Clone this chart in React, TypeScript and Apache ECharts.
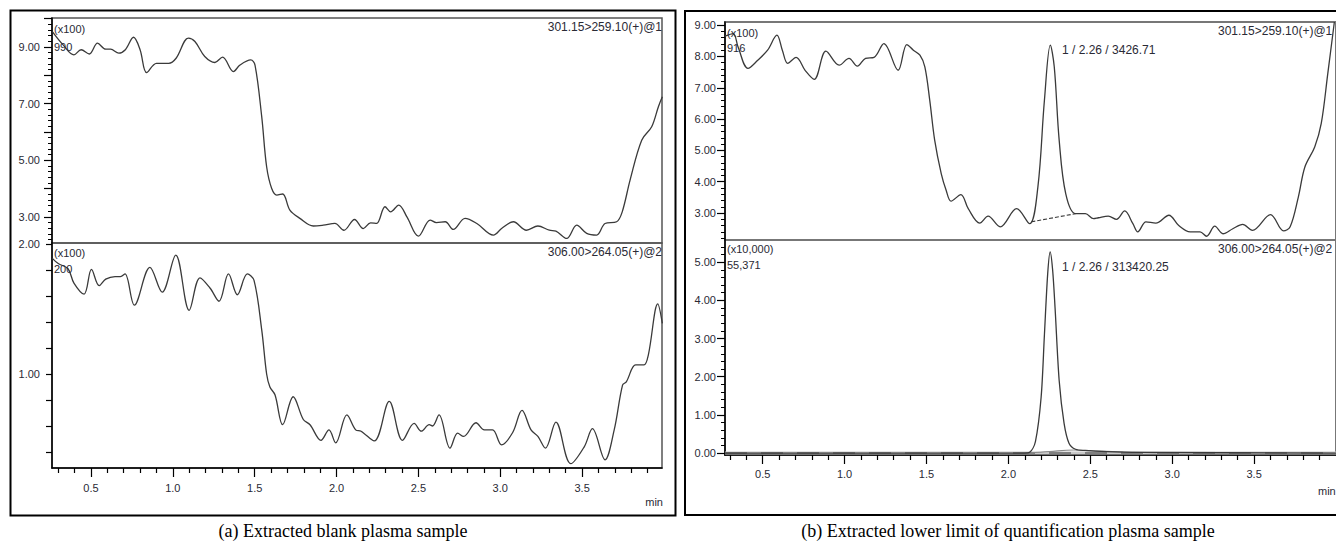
import React, { useEffect, useRef } from "react";
import * as echarts from "echarts";

// ---- Data (time in min, intensity in displayed axis units) ----
const blankAnalyte: [number, number][] = [
  [0.264, 9.54], [0.33, 9.07], [0.396, 8.72], [0.44, 8.9], [0.49, 8.75], [0.54, 9.13], [0.59, 8.92], [0.62, 8.92],
  [0.67, 8.78], [0.71, 8.9], [0.76, 9.34], [0.8, 8.9], [0.84, 8.09], [0.9, 8.42], [0.975, 8.42], [1.02, 8.6],
  [1.095, 9.31], [1.135, 9.19], [1.195, 8.66], [1.257, 8.45], [1.304, 8.64], [1.37, 8.13], [1.41, 8.36], [1.476, 8.54],
  [1.502, 8.36], [1.543, 6.54], [1.573, 4.77], [1.604, 4.0], [1.635, 3.77], [1.671, 3.81], [1.715, 3.24], [1.776, 2.95],
  [1.858, 2.68], [1.919, 2.71], [1.99, 2.77], [2.045, 2.53], [2.11, 2.91], [2.163, 2.59], [2.208, 2.79], [2.245, 2.77],
  [2.296, 3.36], [2.33, 3.18], [2.38, 3.42], [2.43, 3.0], [2.5, 2.32], [2.572, 2.89], [2.61, 2.8], [2.664, 2.83],
  [2.713, 2.56], [2.785, 2.95], [2.857, 2.77], [2.958, 2.36], [3.01, 2.6], [3.08, 2.83], [3.16, 2.53], [3.23, 2.68],
  [3.3, 2.53], [3.34, 2.5], [3.406, 2.24], [3.467, 2.71], [3.528, 2.42], [3.589, 2.36], [3.64, 2.77], [3.711, 2.83],
  [3.745, 3.18], [3.793, 4.3], [3.864, 5.71], [3.925, 6.18], [3.966, 6.89], [3.99, 7.24],
];

const blankIS: [number, number][] = [
  [0.264, 1.89], [0.3, 1.85], [0.36, 1.81], [0.396, 1.7], [0.458, 1.615], [0.503, 1.805], [0.55, 1.68], [0.59, 1.73],
  [0.647, 1.75], [0.68, 1.75], [0.708, 1.77], [0.765, 1.53], [0.86, 1.82], [0.935, 1.63], [1.018, 1.915], [1.1, 1.49],
  [1.166, 1.74], [1.228, 1.66], [1.282, 1.56], [1.34, 1.77], [1.394, 1.61], [1.455, 1.77], [1.496, 1.72], [1.543, 1.34],
  [1.573, 1.0], [1.593, 0.9], [1.624, 0.84], [1.671, 0.61], [1.735, 0.825], [1.797, 0.65], [1.838, 0.61], [1.905, 0.49],
  [1.954, 0.57], [1.995, 0.47], [2.063, 0.685], [2.117, 0.57], [2.15, 0.56], [2.23, 0.485], [2.322, 0.79], [2.403, 0.49],
  [2.474, 0.62], [2.518, 0.56], [2.566, 0.61], [2.586, 0.6], [2.626, 0.685], [2.693, 0.43], [2.74, 0.545], [2.776, 0.52],
  [2.852, 0.625], [2.903, 0.57], [2.953, 0.57], [3.008, 0.455], [3.076, 0.55], [3.133, 0.72], [3.188, 0.57], [3.23, 0.52],
  [3.276, 0.43], [3.34, 0.63], [3.431, 0.31], [3.513, 0.44], [3.563, 0.58], [3.64, 0.34], [3.696, 0.57], [3.747, 0.915],
  [3.77, 0.94], [3.827, 1.07], [3.878, 1.07], [3.905, 1.15], [3.962, 1.54], [3.99, 1.39],
];

const lloqAnalyte: [number, number][] = [
  [0.27, 8.65], [0.32, 8.73], [0.35, 8.3], [0.41, 7.62], [0.47, 7.88], [0.53, 8.2], [0.587, 8.68], [0.62, 8.2],
  [0.653, 7.78], [0.704, 7.97], [0.76, 7.55], [0.815, 7.27], [0.886, 8.17], [0.967, 7.72], [1.027, 7.94], [1.078, 7.69],
  [1.128, 7.94], [1.18, 7.97], [1.24, 8.41], [1.327, 7.56], [1.38, 8.38], [1.42, 8.2], [1.46, 8.04], [1.49, 7.67],
  [1.52, 6.6], [1.55, 5.33], [1.59, 4.26], [1.62, 3.73], [1.65, 3.38], [1.71, 3.59], [1.755, 3.14], [1.825, 2.68],
  [1.876, 2.9], [1.95, 2.56], [2.05, 3.14], [2.13, 2.66], [2.18, 3.83], [2.22, 6.6], [2.256, 8.36], [2.28, 7.67],
  [2.31, 5.33], [2.35, 3.62], [2.41, 2.98], [2.47, 2.98], [2.52, 2.82], [2.55, 2.85], [2.61, 2.9], [2.66, 2.8],
  [2.71, 3.07], [2.76, 2.66], [2.79, 2.4], [2.84, 2.72], [2.9, 2.68], [2.98, 2.93], [3.04, 2.6], [3.11, 2.4],
  [3.17, 2.4], [3.21, 2.26], [3.26, 2.58], [3.31, 2.34], [3.37, 2.5], [3.43, 2.64], [3.49, 2.45], [3.6, 2.95],
  [3.68, 2.43], [3.72, 2.56], [3.77, 3.51], [3.81, 4.47], [3.87, 5.11], [3.91, 5.86], [3.95, 7.46], [3.99, 9.1],
];
const lloqAnalyteBaseline: [number, number][] = [[2.14, 2.72], [2.41, 2.98]];

const lloqIS: [number, number][] = [
  [0.27, 0.0], [2.1, 0.0], [2.13, 0.02], [2.165, 0.3], [2.2, 1.47], [2.22, 3.1], [2.24, 4.7], [2.255, 5.27],
  [2.27, 4.8], [2.285, 3.8], [2.31, 1.9], [2.34, 0.78], [2.37, 0.26], [2.41, 0.1], [2.47, 0.07], [2.6, 0.04],
  [2.8, 0.02], [4.0, 0.0],
];
const lloqISBaseline: [number, number][] = [[2.13, 0.0], [2.25, 0.04], [2.4, 0.08], [2.5, 0.06], [2.7, 0.03], [2.9, 0.01]];
const zeroLine: [number, number][] = [[0.27, 0], [4.0, 0]];

// ---- Tick values ----
const xMajor = [0.5, 1.0, 1.5, 2.0, 2.5, 3.0, 3.5];
const xMinor = [0.3, 0.4, 0.6, 0.7, 0.8, 0.9, 1.1, 1.2, 1.3, 1.4, 1.6, 1.7, 1.8, 1.9, 2.1, 2.2, 2.3, 2.4, 2.6, 2.7, 2.8, 2.9, 3.1, 3.2, 3.3, 3.4, 3.6, 3.7, 3.8, 3.9];
const tlLabels = [3, 5, 7, 9];
const tlMajor = [3, 4, 5, 6, 7, 8, 9, 10];
const blLabels = [1, 2];
const blTicks = [0.4, 0.6, 0.8, 1.0, 1.2, 1.4, 1.6, 1.8, 2.0];
const trLabels = [3, 4, 5, 6, 7, 8, 9];
const brLabels = [0, 1, 2, 3, 4, 5];

const steps = (a: number, b: number, s: number) => {
  const out: number[] = [];
  for (let v = a; v <= b + 1e-9; v += s) out.push(Math.round(v * 100) / 100);
  return out;
};
const tlMinor = steps(2.2, 10, 0.2);
const trMinor = steps(2.2, 9, 0.2);
const brMinor = steps(0, 5.4, 0.2);

const FONT = '"Liberation Sans", Arial, sans-serif';
const TXT = "#2a2a35";
const TRACE = "#3a3a3a";

// ranges
const LX: [number, number] = [0.262, 3.988];
const RX: [number, number] = [0.27, 4.0];
const TLY: [number, number] = [2.08, 10.02];
const BLY: [number, number] = [0.277, 2.008];
const TRY: [number, number] = [2.14, 9.1];
const BRY: [number, number] = [-0.05, 5.58];

function xAxisFor(grid: number, r: [number, number], show: boolean, margin: number) {
  if (!show) return { type: "value", gridIndex: grid, min: r[0], max: r[1], show: false };
  return {
    type: "value", gridIndex: grid, min: r[0], max: r[1], position: "bottom",
    axisLine: { show: true, onZero: false, lineStyle: { color: "#000", width: 1.5 } },
    axisTick: { show: true, length: 9, customValues: xMajor, lineStyle: { color: "#000", width: 1.2 } },
    axisLabel: { show: true, customValues: xMajor, formatter: (v: number) => v.toFixed(1), fontSize: 11, color: TXT, fontFamily: FONT, margin },
    splitLine: { show: false },
  };
}

function xMinorAxis(grid: number, r: [number, number]) {
  return {
    type: "value", gridIndex: grid, min: r[0], max: r[1], position: "bottom",
    axisLine: { show: false, onZero: false },
    axisTick: { show: true, length: 5, customValues: xMinor, lineStyle: { color: "#000", width: 1.2 } },
    axisLabel: { show: false },
    splitLine: { show: false },
  };
}

function yAxisFor(grid: number, r: [number, number], labels: number[], major: number[], len: number, margin: number) {
  return {
    type: "value", gridIndex: grid, min: r[0], max: r[1], position: "left",
    axisLine: { show: true, onZero: false, lineStyle: { color: "#000", width: 1.5 } },
    axisTick: { show: true, length: len, customValues: major, lineStyle: { color: "#000", width: 1.2 } },
    axisLabel: { show: true, customValues: labels, formatter: (v: number) => v.toFixed(2), fontSize: 11, color: TXT, fontFamily: FONT, margin },
    splitLine: { show: false },
  };
}

function yMinorAxis(grid: number, r: [number, number], minor: number[]) {
  return {
    type: "value", gridIndex: grid, min: r[0], max: r[1], position: "left",
    axisLine: { show: false, onZero: false },
    axisTick: { show: true, length: 4, customValues: minor, lineStyle: { color: "#000", width: 1 } },
    axisLabel: { show: false },
    splitLine: { show: false },
  };
}

function txt(text: string, x: number, y: number, size: number, align = "left", font = FONT, fill = TXT) {
  return {
    type: "text", x, y, silent: true, z: 100,
    style: { text, fill, fontSize: size, fontFamily: font, textAlign: align, textVerticalAlign: "middle" },
  };
}

export default function App() {
  const ref = useRef<HTMLDivElement>(null);
  useEffect(() => {
    if (!ref.current) return;
    const chart = echarts.init(ref.current, null, { renderer: "svg" });

    const line = (grid: number, data: [number, number][], color = TRACE, width = 1.3, smooth: number | boolean = 0.35, extra: any = {}) => ({
      type: "line", xAxisIndex: grid, yAxisIndex: grid, data, showSymbol: false, symbol: "none",
      smooth, clip: false, lineStyle: { color, width, ...extra }, silent: true,
    });

    chart.setOption({
      animation: false,
      grid: [
        { show: true, left: 52, top: 18, width: 610, height: 225, borderColor: "#555", borderWidth: 1.5 },
        { show: true, left: 52, top: 243, width: 610, height: 225, borderColor: "#555", borderWidth: 1.5 },
        { show: true, left: 725, top: 22, width: 615, height: 218, borderColor: "#777", borderWidth: 2 },
        { show: true, left: 725, top: 240, width: 615, height: 215, borderColor: "#777", borderWidth: 2 },
      ],
      xAxis: [
        xAxisFor(0, LX, false, 14),
        xAxisFor(1, LX, true, 14),
        xAxisFor(2, RX, false, 13),
        xAxisFor(3, RX, true, 13),
        xMinorAxis(1, LX),
        xMinorAxis(3, RX),
      ],
      yAxis: [
        yAxisFor(0, TLY, tlLabels, tlMajor, 8, 12),
        yAxisFor(1, BLY, blLabels, blTicks, 6, 12),
        yAxisFor(2, TRY, trLabels, trLabels, 8, 9),
        yAxisFor(3, BRY, brLabels, brLabels, 8, 9),
        yMinorAxis(0, TLY, tlMinor),
        yMinorAxis(2, TRY, trMinor),
        yMinorAxis(3, BRY, brMinor),
      ],
      series: [
        line(0, blankAnalyte),
        line(1, blankIS),
        line(2, lloqAnalyte),
        line(2, lloqAnalyteBaseline, TRACE, 1.1, false, { type: [4, 2] }),
        line(3, zeroLine, "#c8c8c8", 3, false),
        line(3, zeroLine, "#808080", 2, false, { type: [22, 14] }),
        line(3, lloqISBaseline, "#8a8a8a", 1.1, 0.4),
        line(3, lloqIS, TRACE, 1.3, 0.3),
      ],
      graphic: [
        { type: "rect", shape: { x: 10.5, y: 10.5, width: 665, height: 505 }, style: { fill: "none", stroke: "#000", lineWidth: 2 }, silent: true, z: 100 },
        { type: "rect", shape: { x: 685, y: 11, width: 700, height: 504 }, style: { fill: "none", stroke: "#000", lineWidth: 2 }, silent: true, z: 100 },
        txt("(x100)", 54, 29, 11),
        txt("990", 54, 47, 11),
        txt("301.15>259.10(+)@1", 662, 27, 12, "right"),
        txt("(x100)", 54, 253, 11),
        txt("200", 54, 269, 11),
        txt("306.00>264.05(+)@2", 662, 252, 12, "right"),
        txt("min", 663, 502, 11, "right"),
        txt("(x100)", 727, 33, 11),
        txt("916", 727, 48, 11),
        txt("301.15>259.10(+)@1", 1218, 31, 12),
        txt("1 / 2.26 / 3426.71", 1062, 50, 12),
        txt("(x10,000)", 727, 249, 11),
        txt("55,371", 727, 265, 11),
        txt("306.00>264.05(+)@2", 1218, 249, 12),
        txt("1 / 2.26 / 313420.25", 1062, 267, 12),
        txt("min", 1318, 491, 11),
        txt("(a) Extracted blank plasma sample", 343, 531, 18, "center", '"Liberation Serif", "Times New Roman", serif', "#000"),
        txt("(b) Extracted lower limit of quantification plasma sample", 1008, 531, 18, "center", '"Liberation Serif", "Times New Roman", serif', "#000"),
      ],
    });

    return () => chart.dispose();
  }, []);
  return <div ref={ref} style={{ position: "absolute", left: 0, top: 0, width: 1336, height: 544, background: "#fff" }} />;
}
